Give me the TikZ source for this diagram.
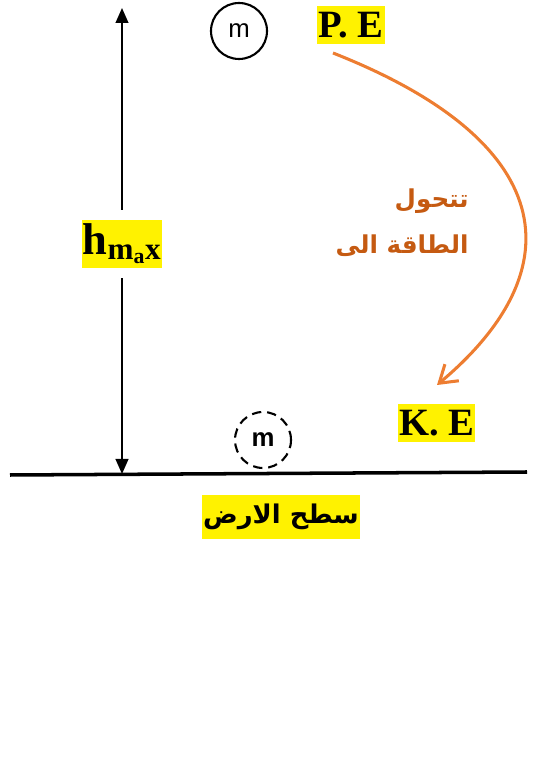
\documentclass[tikz,border=0pt]{standalone}
\usepackage{fontspec}
\setmainfont{Liberation Serif}
\setsansfont{Liberation Sans}
\newfontfamily\arabicfont[Script=Arabic]{DejaVu Sans}
\TeXXeTstate=1
\usetikzlibrary{arrows.meta}
\definecolor{energyorange}{RGB}{237,125,49}
\definecolor{textorange}{RGB}{197,90,17}
\tikzset{
	hilite/.style={fill=yellow,inner xsep=1pt,inner ysep=5pt,font=\bfseries\fontsize{33}{33}\selectfont},
	massball/.style={circle,draw,line width=1.8pt,minimum size=1.68cm,inner sep=0pt,font=\sffamily\fontsize{22}{22}\selectfont},
	heightarrow/.style={line width=1.8pt,-{Triangle[length=4.5mm,width=3.8mm]}}
}
\begin{document}
\begin{tikzpicture}
		\useasboundingbox (0,0) rectangle (15.99,23.43);

		% Height marker
		\coordinate (top) at (3.66,23.19);
		\coordinate (base) at (3.66,9.21);
		\node[hilite,font=\bfseries\fontsize{38}{38}\selectfont,inner ysep=3pt] (hmax) at (3.66,16.11) {h\textsubscript{m\textsubscript{a}x}};
		\draw[heightarrow,shorten <=9pt] (hmax.north) -- (top);
		\draw[heightarrow,shorten <=9pt] (hmax.south) -- (base);

		% Ball at the top
		\node[massball] (ballTop) at (7.17,22.5) {m};
		\node[hilite] (pe) at (10.53,22.68) {P. E};

		% Ball at the ground
		\node[massball,dash pattern=on 8pt off 5pt,font=\sffamily\bfseries\fontsize{22}{22}\selectfont] (ballLow) at (7.89,10.23) {m};
		\node[hilite] (ke) at (13.1,10.74) {K. E};

		% Energy change
		\coordinate (curveStart) at (9.99,21.84);
		\coordinate (curveEnd) at (13.11,11.88);
		\draw[energyorange,line width=2.6pt,-{Straight Barb[length=5mm,width=6.5mm]}]
			(curveStart) .. controls (16.7,19.2) and (17.3,15.4) .. (curveEnd);
		\node[text=textorange,anchor=east,align=right,font=\arabicfont\bfseries\fontsize{21}{40}\selectfont] (change) at (14.18,16.75)
			{\beginR تتحول\endR\\\beginR الطاقة الى\endR};

		% Ground
		\draw[line width=3pt] (0.3,9.18) -- (15.81,9.27);
		\node[hilite,inner ysep=8pt,font=\arabicfont\bfseries\fontsize{22}{22}\selectfont] (ground) at (8.43,7.92) {\beginR سطح الارض\endR};
	\end{tikzpicture}
\end{document}
